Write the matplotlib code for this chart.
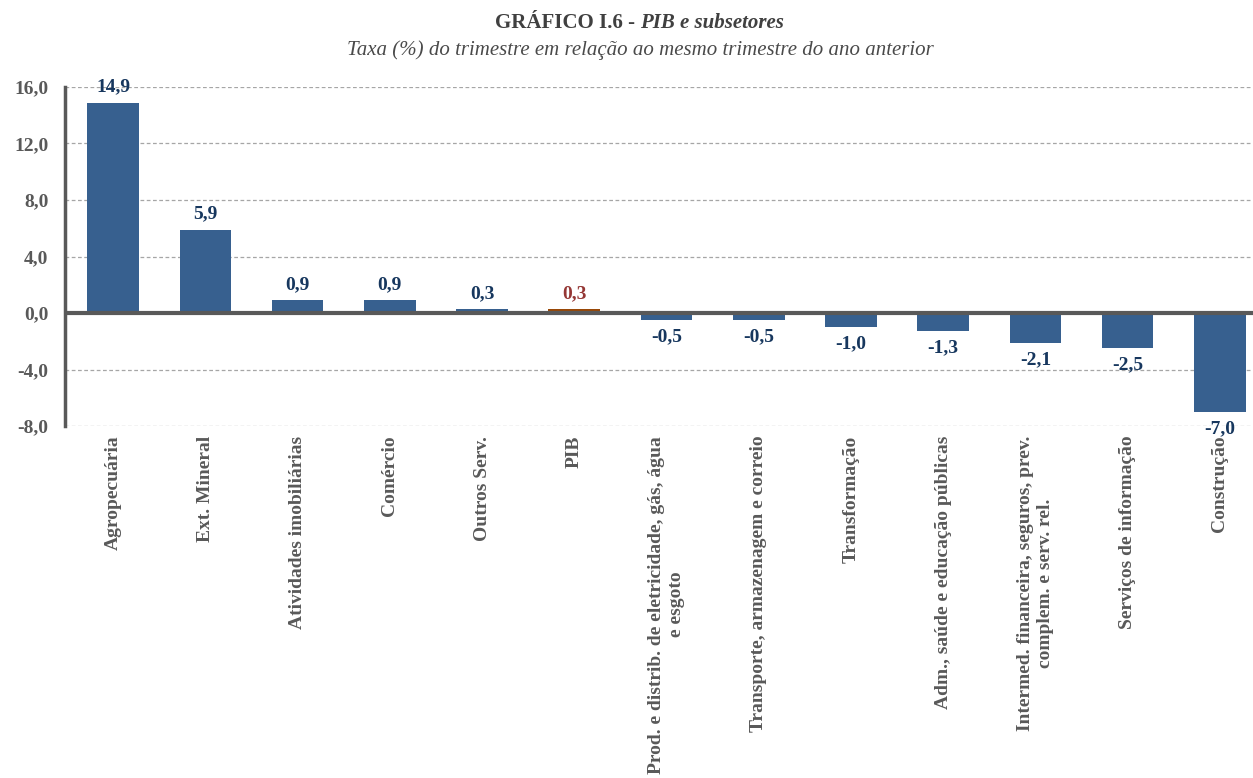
import matplotlib
matplotlib.use('Agg')
import matplotlib.pyplot as plt

# Growth of each subsector vs. same quarter of the previous year (%)
categories = ['Agropecuária', 'Ext. Mineral', 'Atividades imobiliárias', 'Comércio',
              'Outros Serv.', 'PIB',
              'Prod. e distrib. de eletricidade, gás, água\ne esgoto',
              'Transporte, armazenagem e correio', 'Transformação',
              'Adm., saúde e educação públicas',
              'Intermed. financeira, seguros, prev.\ncomplem. e serv. rel.',
              'Serviços de informação', 'Construção']
values = [14.9, 5.9, 0.9, 0.9, 0.3, 0.3, -0.5, -0.5, -1.0, -1.3, -2.1, -2.5, -7.0]
yticks = [-8, -4, 0, 4, 8, 12, 16]

bar_blue = '#37608F'
pib_brown = '#984807'
label_blue = '#17375E'
label_red = '#953735'
gray = '#595959'

plt.rcParams['font.family'] = ['Liberation Serif', 'DejaVu Serif']

fig = plt.figure(figsize=(12.53, 7.78), dpi=100)
ax = fig.add_axes([0.052, 0.4524, 0.948, 0.4358])

colors = [pib_brown if c == 'PIB' else bar_blue for c in categories]
x = range(len(categories))
ax.bar(x, values, width=0.56, color=colors, zorder=3)

ax.set_xlim(-0.52, 12.36)
ax.set_ylim(-8, 16)
ax.set_yticks(yticks)
ax.set_yticklabels([f'{v:.1f}'.replace('.', ',') for v in yticks],
                   fontsize=14, fontweight='bold', color=gray)
ax.tick_params(axis='y', length=0, pad=12)
ax.tick_params(axis='x', length=0, pad=7)

ax.set_xticks(list(x))
ax.set_xticklabels(categories, rotation=90, fontsize=14, fontweight='bold',
                   color=gray, ha='center', va='top', multialignment='center')

# dashed gridlines everywhere except zero
for v in yticks:
    if v != 0:
        ax.axhline(v, color='#A6A6A6', lw=0.9, ls=(0, (3, 2)), zorder=1)
ax.axhline(0, color=gray, lw=3, zorder=4)

for s in ['top', 'right', 'bottom']:
    ax.spines[s].set_visible(False)
ax.spines['left'].set_color(gray)
ax.spines['left'].set_linewidth(2.5)

# value labels
for i, (c, v) in enumerate(zip(categories, values)):
    txt = f'{v:.1f}'.replace('.', ',')
    col = label_red if c == 'PIB' else label_blue
    if v >= 0:
        ax.annotate(txt, (i, v), xytext=(0, 5), textcoords='offset points',
                    ha='center', va='bottom', fontsize=14, fontweight='bold', color=col, zorder=5)
    else:
        ax.annotate(txt, (i, v), xytext=(0, -6), textcoords='offset points',
                    ha='center', va='top', fontsize=14, fontweight='bold', color=col, zorder=5)

# title: upright part + italic part
fig.text(0.511, 0.970, 'GRÁFICO I.6 - ', ha='right', va='center', fontsize=15,
         fontweight='bold', color='#404040')
fig.text(0.511, 0.970, 'PIB e subsetores', ha='left', va='center', fontsize=15,
         fontweight='bold', style='italic', color='#404040')
fig.text(0.511, 0.935, 'Taxa (%) do trimestre em relação ao mesmo trimestre do ano anterior',
         ha='center', va='center', fontsize=15, style='italic', color='#4a4a4a')

fig.savefig('out.png', dpi=100)
